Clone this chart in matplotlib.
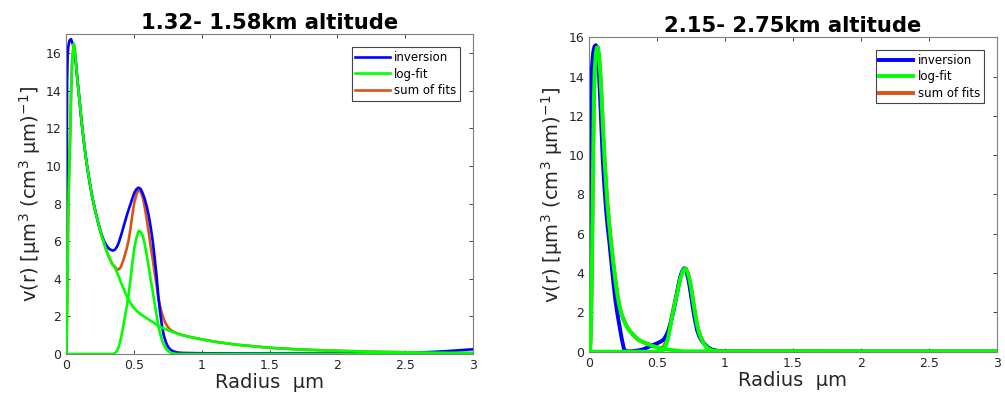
import matplotlib
matplotlib.use('Agg')
import matplotlib.pyplot as plt
import numpy as np

# ---- left panel: 1.32-1.58 km ----
r_left = [0, 0.004, 0.008, 0.012, 0.016, 0.02, 0.025, 0.03, 0.037, 0.045, 0.057, 0.065,
          0.074, 0.085, 0.098, 0.11, 0.123, 0.14, 0.155, 0.175, 0.192, 0.216, 0.24, 0.26,
          0.28, 0.3, 0.32, 0.344, 0.36, 0.375, 0.39, 0.405, 0.423, 0.437, 0.447, 0.46,
          0.474, 0.49, 0.505, 0.52, 0.535, 0.55, 0.565, 0.58, 0.595, 0.61, 0.625, 0.64,
          0.655, 0.668, 0.68, 0.693, 0.705, 0.72, 0.735, 0.75, 0.765, 0.78, 0.8, 0.82,
          0.85, 0.9, 1.0, 1.1, 1.25, 1.5, 1.75, 2.0, 2.25, 2.5, 2.6, 2.7, 2.8, 2.9, 3.0]
inv_left = [0, 8, 14.5, 15.9, 16.3, 16.5, 16.65, 16.72, 16.75, 16.6, 16.3, 15.9,
            15.4, 14.5, 13.6, 12.7, 11.8, 10.8, 10.0, 9.1, 8.4, 7.6, 6.9, 6.4,
            6.0, 5.75, 5.58, 5.5, 5.55, 5.7, 5.95, 6.3, 6.75, 7.1, 7.35, 7.65,
            7.95, 8.3, 8.6, 8.78, 8.85, 8.78, 8.55, 8.25, 7.85, 7.35, 6.7, 5.95,
            5.0, 4.1, 3.1, 2.25, 1.6, 1.0, 0.65, 0.4, 0.27, 0.18, 0.12, 0.08,
            0.06, 0.05, 0.04, 0.035, 0.03, 0.03, 0.03, 0.03, 0.04, 0.06, 0.08, 0.11, 0.15, 0.2, 0.25]
fit1_left = [0, 0.5, 2.5, 5.0, 7.3, 8.8, 10.2, 11.5, 13.8, 15.6, 16.5, 16.2,
             15.4, 14.5, 13.6, 12.7, 11.8, 10.8, 10.0, 9.1, 8.4, 7.6, 6.9, 6.35,
             5.9, 5.45, 5.1, 4.75, 4.6, 4.35, 4.1, 3.8, 3.5, 3.25, 3.1, 2.9,
             2.72, 2.55, 2.42, 2.3, 2.2, 2.12, 2.05, 1.97, 1.9, 1.83, 1.76, 1.7,
             1.62, 1.56, 1.5, 1.45, 1.41, 1.36, 1.31, 1.27, 1.23, 1.19, 1.14, 1.09,
             1.02, 0.93, 0.78, 0.65, 0.5, 0.33, 0.23, 0.17, 0.12, 0.09, 0.08, 0.07, 0.065, 0.06, 0.05]
fit2_left = [0, 0, 0, 0, 0, 0, 0, 0, 0, 0, 0, 0,
             0, 0, 0, 0, 0, 0, 0, 0, 0, 0, 0, 0,
             0, 0, 0, 0, 0.05, 0.15, 0.4, 0.85, 1.5, 2.1, 2.5, 3.1,
             3.9, 4.9, 5.7, 6.2, 6.55, 6.5, 6.3, 5.85, 5.25, 4.6, 3.9, 3.3,
             2.6, 2.05, 1.5, 1.1, 0.8, 0.5, 0.3, 0.17, 0.09, 0.05, 0.02, 0,
             0, 0, 0, 0, 0, 0, 0, 0, 0, 0, 0, 0, 0, 0, 0]

# ---- right panel: 2.15-2.75 km ----
r_right = [0, 0.005, 0.01, 0.014, 0.018, 0.022, 0.027, 0.031, 0.036, 0.042, 0.051, 0.058,
           0.065, 0.075, 0.085, 0.093, 0.103, 0.113, 0.125, 0.137, 0.15, 0.165, 0.18, 0.195,
           0.21, 0.225, 0.24, 0.257, 0.27, 0.29, 0.32, 0.36, 0.4, 0.45, 0.5, 0.53,
           0.55, 0.57, 0.585, 0.6, 0.615, 0.63, 0.645, 0.66, 0.675, 0.69, 0.70, 0.71,
           0.72, 0.735, 0.75, 0.765, 0.78, 0.795, 0.81, 0.83, 0.85, 0.875, 0.9, 0.93,
           0.96, 1.0, 1.25, 1.5, 2.0, 2.5, 3.0]
inv_right = [0, 0.5, 5, 11, 13.5, 14.4, 14.9, 15.2, 15.4, 15.55, 15.6, 15.5,
             15.1, 14.0, 12.5, 11.2, 9.6, 8.5, 7.3, 6.4, 5.6, 4.55, 3.5, 2.6,
             1.9, 1.3, 0.7, 0.15, 0.04, 0.02, 0.03, 0.06, 0.12, 0.28, 0.42, 0.52,
             0.62, 0.85, 1.1, 1.45, 1.85, 2.35, 2.9, 3.45, 3.9, 4.15, 4.24, 4.2,
             4.0, 3.55, 2.9, 2.2, 1.6, 1.1, 0.8, 0.55, 0.38, 0.22, 0.12, 0.06,
             0.03, 0.01, 0, 0, 0, 0, 0]
fit1_right = [0, 0, 0.3, 1.0, 2.5, 4.5, 7.6, 10.0, 12.7, 14.3, 15.2, 15.45,
              15.5, 15.0, 14.0, 12.9, 11.4, 10.0, 8.6, 7.4, 6.4, 5.4, 4.45, 3.6,
              2.85, 2.3, 1.9, 1.6, 1.4, 1.15, 0.9, 0.62, 0.48, 0.34, 0.22, 0.17,
              0.14, 0.12, 0.1, 0.09, 0.08, 0.07, 0.06, 0.05, 0.03, 0.02, 0.02, 0.02,
              0.02, 0.02, 0.02, 0.02, 0.02, 0.02, 0.02, 0.02, 0.02, 0.02, 0.02, 0.02,
              0.02, 0.02, 0.02, 0.02, 0.01, 0.01, 0.01]
fit2_right = [0, 0, 0, 0, 0, 0, 0, 0, 0, 0, 0, 0,
              0, 0, 0, 0, 0, 0, 0, 0, 0, 0, 0, 0,
              0, 0, 0, 0, 0, 0, 0, 0, 0, 0, 0, 0.02,
              0.1, 0.4, 0.8, 1.35, 1.9, 2.4, 2.85, 3.35, 3.8, 4.1, 4.2, 4.22,
              4.12, 3.8, 3.3, 2.6, 1.95, 1.35, 0.95, 0.6, 0.35, 0.17, 0.08, 0.03,
              0.01, 0, 0, 0, 0, 0, 0]

titles = ['1.32- 1.58km altitude', '2.15- 2.75km altitude']
xticks = [0, 0.5, 1, 1.5, 2, 2.5, 3]
xticklabels = ['0', '0.5', '1', '1.5', '2', '2.5', '3']
yticks = [0, 2, 4, 6, 8, 10, 12, 14, 16]
ylims = [17, 16]

blue = '#0000ff'
green = '#00ff00'
orange = '#d95319'
axcol = '#262626'

fig = plt.figure(figsize=(10.05, 3.99), dpi=100)
ax1 = fig.add_axes([0.0657, 0.1128, 0.405, 0.8008])
ax2 = fig.add_axes([0.586, 0.1186, 0.406, 0.788])

panels = [(ax1, r_left, inv_left, fit1_left, fit2_left, 1.9),
          (ax2, r_right, inv_right, fit1_right, fit2_right, 2.8)]

for i, (ax, r, inv, f1, f2, lw) in enumerate(panels):
    r = np.array(r)
    f1 = np.array(f1)
    f2 = np.array(f2)
    ax.plot(r, f1 + f2, color=orange, lw=lw, zorder=1, label='sum of fits')
    ax.plot(r, inv, color=blue, lw=lw, zorder=2, label='inversion')
    ax.plot(r, f1, color=green, lw=lw, zorder=3, label='log-fit')
    ax.plot(r, f2, color=green, lw=lw, zorder=3)

    ax.set_xlim(0, 3)
    ax.set_ylim(0, ylims[i])
    ax.set_xticks(xticks)
    ax.set_xticklabels(xticklabels)
    ax.set_yticks(yticks)
    ax.tick_params(direction='in', top=True, right=True, labelsize=9,
                   colors=axcol, length=3, width=0.6)
    for s in ax.spines.values():
        s.set_color('#7f7f7f')
        s.set_linewidth(0.8)
    ax.set_title(titles[i], fontsize=15.2, fontweight='bold', pad=4)
    ax.set_xlabel('Radius  \u03bcm', fontsize=14, color=axcol, labelpad=1)
    ax.set_ylabel('v(r) [\u03bcm$^3$ (cm$^3$ \u03bcm)$^{-1}$]', fontsize=14,
                  color=axcol, labelpad=2)

    h, l = ax.get_legend_handles_labels()
    order = [1, 2, 0]
    leg = ax.legend([h[k] for k in order], [l[k] for k in order], loc='upper right',
                    fontsize=8.5, handlelength=2.9, fancybox=False, framealpha=1,
                    borderaxespad=1.1, labelspacing=0.3, handletextpad=0.4,
                    borderpad=0.3)
    leg.get_frame().set_edgecolor('#444444')
    leg.get_frame().set_linewidth(0.8)

plt.savefig('out.png', dpi=100)
